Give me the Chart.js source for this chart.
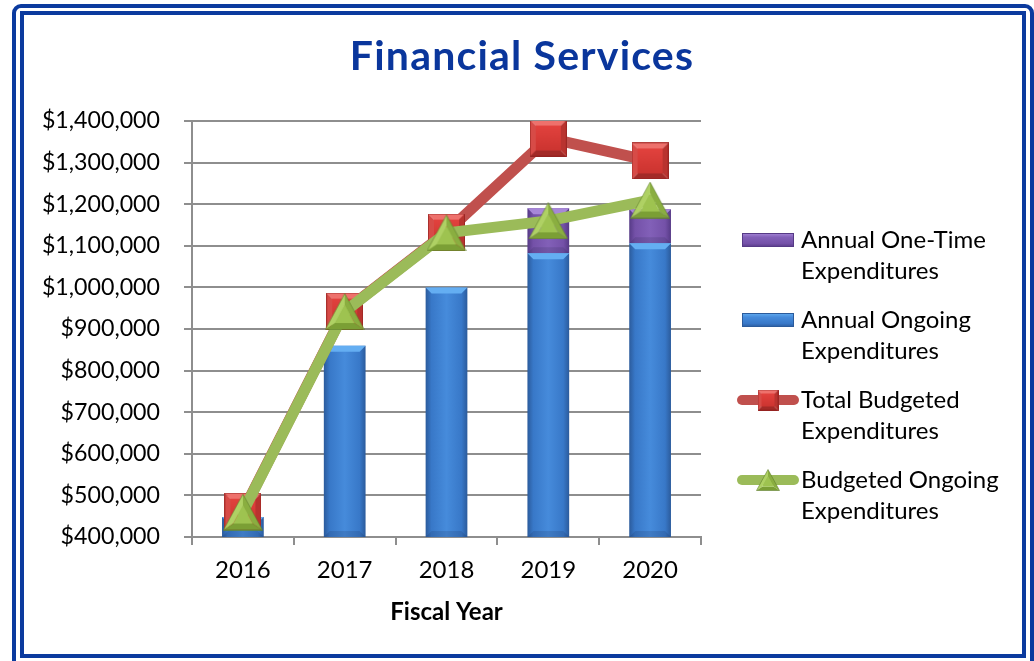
<!DOCTYPE html>
<html>
<head>
<meta charset="utf-8">
<title>Financial Services</title>
<script src="https://cdn.jsdelivr.net/npm/chart.js@4.4.1/dist/chart.umd.min.js"></script>
<style>
  html, body { margin: 0; padding: 0; background: #ffffff; }
  #wrap { position: relative; width: 1034px; height: 661px; overflow: hidden; }
  .frame { position: absolute; box-sizing: border-box; border: 4px solid #0b3a9e; }
  #outer { left: 12px; top: 4px; width: 1022px; height: 680px; border-radius: 9px; }
  #inner { left: 20px; top: 11px; width: 1006px; height: 647px; }
  #c { position: absolute; left: 0; top: 0; }
</style>
</head>
<body>
<div id="wrap">
  <div class="frame" id="outer"></div>
  <div class="frame" id="inner"></div>
  <canvas id="c" width="1034" height="661"></canvas>
</div>
<script>
// ---- chart values ----
const years = ['2016', '2017', '2018', '2019', '2020'];
const annualOngoing   = [448000, 860000, 1000000, 1082000, 1106000];
const annualOneTime   = [0, 0, 0, 108000, 82000];
const totalBudgeted   = [462000, 943000, 1133000, 1359000, 1304000];
const budgetedOngoing = [460000, 942000, 1131000, 1160000, 1210000];

// ---- axis ticks ----
const yMin = 400000;
const yMax = 1400000;
const yStep = 100000;

// ---- texts ----
const titleText = 'Financial Services';
const xAxisTitle = 'Fiscal Year';
const legendOneTime  = ['Annual One-Time', 'Expenditures'];
const legendOngoing  = ['Annual Ongoing', 'Expenditures'];
const legendTotal    = ['Total Budgeted', 'Expenditures'];
const legendBudgeted = ['Budgeted Ongoing', 'Expenditures'];

const FONT = 'Lato, "Open Sans", sans-serif';
const BAR_PCT = 0.41;
const GRID = '#8e8e8e';
const TEXT_SIZE = 24;
const Y_TICK_SIZE = 23.2;

const palette = {
  blue:   { edge: '#2b5b9c', base: '#3878c8', hi: '#468bdb', top: '#64aef2' },
  purple: { edge: '#563a86', base: '#7451a8', hi: '#8260b8', top: '#a787d8' },
  red:    { line: '#c0504d' },
  green:  { line: '#9bbb59' }
};

function fillPoly(g, pts, col) {
  g.fillStyle = col;
  g.beginPath();
  g.moveTo(pts[0][0], pts[0][1]);
  for (let i = 1; i < pts.length; i++) g.lineTo(pts[i][0], pts[i][1]);
  g.closePath();
  g.fill();
}

// Beveled square marker
function squareMarker(s) {
  const c = document.createElement('canvas');
  c.width = s; c.height = s;
  const g = c.getContext('2d');
  const b = Math.round(s * 0.17);
  fillPoly(g, [[0,0],[s,0],[s-b,b],[b,b]], '#ee716c');
  fillPoly(g, [[0,0],[b,b],[b,s-b],[0,s]], '#d74b47');
  fillPoly(g, [[s,0],[s,s],[s-b,s-b],[s-b,b]], '#b9332f');
  fillPoly(g, [[0,s],[s,s],[s-b,s-b],[b,s-b]], '#a32a27');
  const gr = g.createLinearGradient(0, b, 0, s - b);
  gr.addColorStop(0, '#e2423e'); gr.addColorStop(1, '#cc3430');
  g.fillStyle = gr; g.fillRect(b, b, s - 2 * b, s - 2 * b);
  g.strokeStyle = 'rgba(140,30,28,0.6)'; g.lineWidth = 1;
  g.strokeRect(0.5, 0.5, s - 1, s - 1);
  return c;
}

// Beveled triangle marker, centred in its box
function triangleMarker(w, h) {
  const c = document.createElement('canvas');
  c.width = w; c.height = h;
  const g = c.getContext('2d');
  const A = [w / 2, 0.5], B = [0.5, h - 0.5], C = [w - 0.5, h - 0.5];
  const cx = w / 2, cy = h * 0.64, k = 0.5;
  const inn = p => [cx + (p[0] - cx) * k, cy + (p[1] - cy) * k];
  const a = inn(A), b = inn(B), cc = inn(C);
  fillPoly(g, [A, B, b, a], '#afd164');
  fillPoly(g, [A, C, cc, a], '#8aae40');
  fillPoly(g, [B, C, cc, b], '#7b9f35');
  fillPoly(g, [a, b, cc], '#9ec350');
  g.strokeStyle = 'rgba(90,120,40,0.55)'; g.lineWidth = 1;
  g.beginPath(); g.moveTo(A[0], A[1]); g.lineTo(B[0], B[1]); g.lineTo(C[0], C[1]); g.closePath(); g.stroke();
  return c;
}

const bigSquare = squareMarker(37);
const bigTriangle = triangleMarker(40, 37);
const smallSquare = squareMarker(21);
const smallTriangle = triangleMarker(24, 22);

// Horizontal shading across each bar
function barFill(p) {
  return (ctx) => {
    const xs = ctx.chart.scales.x;
    if (!xs || ctx.type !== 'data') return p.base;
    const cx = xs.getPixelForValue(ctx.dataIndex);
    const w = xs.width / years.length * BAR_PCT;
    if (!isFinite(cx) || !(w > 0)) return p.base;
    const gr = ctx.chart.ctx.createLinearGradient(cx - w / 2, 0, cx + w / 2, 0);
    gr.addColorStop(0, p.edge);
    gr.addColorStop(0.14, p.base);
    gr.addColorStop(0.5, p.hi);
    gr.addColorStop(0.86, p.base);
    gr.addColorStop(1, p.edge);
    return gr;
  };
}

const decor = {
  id: 'decor',
  // light bevel on the top of each bar segment, darker one at its foot
  afterDatasetDraw(chart, args) {
    const ds = chart.data.datasets[args.index];
    if (ds.type !== 'bar') return;
    const ctx = chart.ctx, area = chart.chartArea;
    ctx.save();
    ctx.beginPath();
    ctx.rect(area.left, area.top, area.right - area.left, area.bottom - area.top);
    ctx.clip();
    args.meta.data.forEach(bar => {
      const { x, y, base, width } = bar.getProps(['x', 'y', 'base', 'width'], true);
      const top = Math.min(y, base), bot = Math.min(Math.max(y, base), area.bottom);
      const h = bot - top;
      if (h < 2) return;
      const b = Math.min(6, h / 3);
      const l = x - width / 2, r = x + width / 2;
      fillPoly(ctx, [[l, top], [r, top], [r - b, top + b], [l + b, top + b]], ds.bevelTop);
      fillPoly(ctx, [[l, bot], [r, bot], [r - b, bot - b], [l + b, bot - b]], 'rgba(20,30,60,0.14)');
    });
    ctx.restore();
  },
  afterDraw(chart) {
    const ctx = chart.ctx;
    ctx.save();
    // title
    ctx.fillStyle = '#0a369c';
    ctx.font = 'bold 41px ' + FONT;
    if ('letterSpacing' in ctx) ctx.letterSpacing = '1.2px';
    ctx.textAlign = 'center';
    ctx.textBaseline = 'alphabetic';
    ctx.fillText(titleText, 522, 70);
    if ('letterSpacing' in ctx) ctx.letterSpacing = '0px';

    // legend
    const iconL = 737, iconR = 799, textX = 801;
    const firstRow = 240, rowStep = 80, lineGap = 31;
    const entries = [
      { kind: 'bar', p: palette.purple, text: legendOneTime },
      { kind: 'bar', p: palette.blue, text: legendOngoing },
      { kind: 'line', color: palette.red.line, marker: smallSquare, text: legendTotal },
      { kind: 'line', color: palette.green.line, marker: smallTriangle, text: legendBudgeted }
    ];
    entries.forEach((e, i) => {
      const cy = firstRow + i * rowStep;
      if (e.kind === 'bar') {
        const l = 742, r = 794, t = cy - 7, bt = cy + 7;
        const gr = ctx.createLinearGradient(0, t, 0, bt);
        gr.addColorStop(0, e.p.top);
        gr.addColorStop(0.3, e.p.hi);
        gr.addColorStop(0.75, e.p.base);
        gr.addColorStop(1, e.p.edge);
        ctx.fillStyle = gr;
        ctx.fillRect(l, t, r - l, bt - t);
        ctx.strokeStyle = e.p.edge; ctx.lineWidth = 1;
        ctx.strokeRect(l + 0.5, t + 0.5, r - l - 1, bt - t - 1);
      } else {
        ctx.strokeStyle = e.color; ctx.lineWidth = 10; ctx.lineCap = 'round';
        ctx.beginPath(); ctx.moveTo(iconL + 5, cy); ctx.lineTo(iconR - 5, cy); ctx.stroke();
        const m = e.marker;
        ctx.drawImage(m, (iconL + iconR) / 2 - m.width / 2, cy - m.height / 2);
      }
      ctx.fillStyle = '#000000';
      ctx.font = TEXT_SIZE + 'px ' + FONT;
      ctx.textAlign = 'left';
      ctx.fillText(e.text[0], textX, cy + 8);
      ctx.fillText(e.text[1], textX, cy + 8 + lineGap);
    });
    ctx.restore();
  }
};

Chart.defaults.font.family = FONT;
Chart.defaults.color = '#000000';

new Chart(document.getElementById('c'), {
  data: {
    labels: years,
    datasets: [
      {
        type: 'line', label: 'Budgeted Ongoing Expenditures', data: budgetedOngoing, order: 0,
        borderColor: palette.green.line, borderWidth: 11, borderJoinStyle: 'round', borderCapStyle: 'round',
        pointStyle: bigTriangle, pointRadius: 19, tension: 0, fill: false
      },
      {
        type: 'line', label: 'Total Budgeted Expenditures', data: totalBudgeted, order: 1,
        borderColor: palette.red.line, borderWidth: 11, borderJoinStyle: 'round', borderCapStyle: 'round',
        pointStyle: bigSquare, pointRadius: 19, tension: 0, fill: false
      },
      {
        type: 'bar', label: 'Annual Ongoing Expenditures', data: annualOngoing, order: 2, stack: 'spend',
        backgroundColor: barFill(palette.blue), bevelTop: palette.blue.top,
        barPercentage: BAR_PCT, categoryPercentage: 1
      },
      {
        type: 'bar', label: 'Annual One-Time Expenditures', data: annualOneTime, order: 3, stack: 'spend',
        backgroundColor: barFill(palette.purple), bevelTop: palette.purple.top,
        barPercentage: BAR_PCT, categoryPercentage: 1
      }
    ]
  },
  options: {
    responsive: false,
    devicePixelRatio: 1,
    animation: false,
    events: [],
    layout: { padding: { left: 0, top: 121, right: 333, bottom: 24 } },
    plugins: { legend: { display: false }, title: { display: false }, tooltip: { enabled: false } },
    scales: {
      x: {
        stacked: true,
        offset: true,
        grid: { drawOnChartArea: false, drawTicks: true, tickLength: 8, color: GRID, lineWidth: 2 },
        border: { display: true, color: GRID, width: 2 },
        ticks: { font: { size: TEXT_SIZE }, color: '#000', padding: 11, maxRotation: 0 },
        title: { display: true, text: xAxisTitle, font: { size: TEXT_SIZE, weight: 'bold' }, color: '#000', padding: { top: 4, bottom: 10 } },
        afterFit: s => { s.height = 100; }
      },
      y: {
        min: yMin, max: yMax,
        grid: { drawOnChartArea: true, drawTicks: true, tickLength: 8, color: GRID, lineWidth: 2 },
        border: { display: true, color: GRID, width: 2 },
        ticks: {
          stepSize: yStep, font: { size: Y_TICK_SIZE }, color: '#000', padding: 24,
          callback: v => '$' + Number(v).toLocaleString('en-US')
        },
        afterFit: s => { s.width = 192; }
      }
    }
  },
  plugins: [decor]
});
</script>
</body>
</html>
